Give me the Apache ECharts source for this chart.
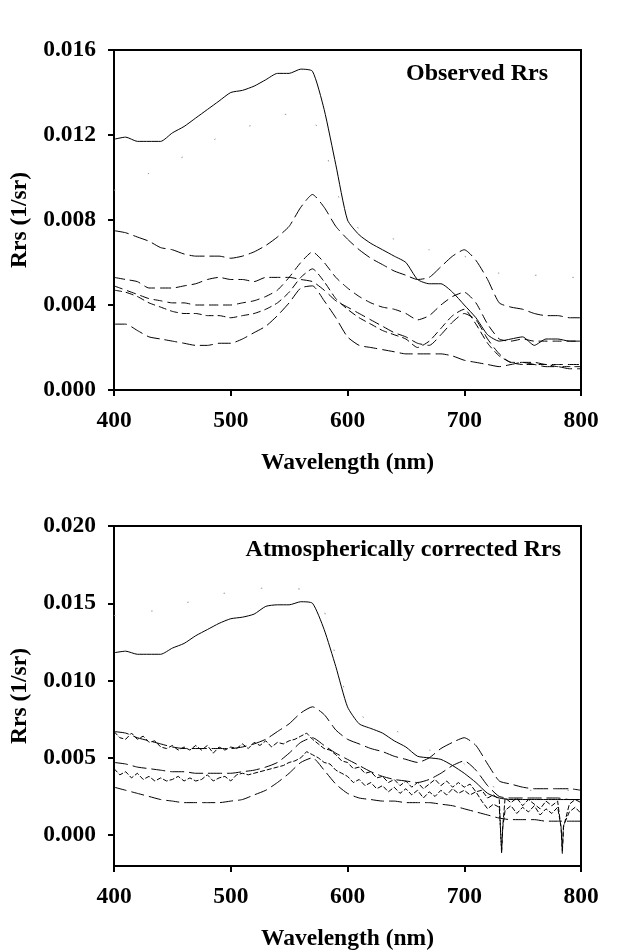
<!DOCTYPE html>
<html><head><meta charset="utf-8">
<script src="https://cdn.jsdelivr.net/npm/echarts@6/dist/echarts.min.js"></script>
<style>html,body{margin:0;padding:0;background:#fff}#c{width:626px;height:952px}</style>
</head><body><div id="c"></div>
<script>
// ---- shared wavelength grids (nm) ----
const wl10 = [400,410,420,430,440,450,460,470,480,490,500,510,520,530,540,550,560,570,580,590,
              600,610,620,630,640,650,660,670,680,690,700,710,720,730,740,750,760,770,780,790,800];
const wlNoisy = [400,405,410,415,420,425,430,435,440,445,450,455,460,465,470,475,480,485,490,495,
                 500,505,510,515,520,525,530,535,540,545,550,555,560,565,570,575,580,585,590,595,
                 600,605,610,615,620,625,630,635,640,645,650,655,660,665,670,675,680,685,690,695,
                 700,705,710,715,720,725,
                 730,731,732,733,735,740,745,750,755,760,765,770,775,780,783,784,785,790,795,800];

// ---- top panel: Observed Rrs ----
const obsSolid = [.0118,.0119,.0117,.0117,.0117,.0121,.0124,.0128,.0132,.0136,
                  .0140,.0141,.0143,.0146,.0149,.0149,.0151,.0150,.0132,.0106,
                  .0080,.0073,.0069,.0066,.0063,.0060,.0052,.0050,.0050,.0046,
                  .0040,.0034,.0026,.0023,.0024,.0025,.0021,.0024,.0024,.0023,.0023];
const obsLongDash = [.0075,.0074,.0072,.0070,.0067,.0066,.0064,.0063,.0063,.0063,
                     .0062,.0063,.0065,.0068,.0072,.0077,.0086,.0092,.0086,.0077,
                     .0071,.0066,.0062,.0059,.0056,.0054,.0052,.0053,.0058,.0063,
                     .0066,.0061,.0052,.0041,.0039,.0038,.0036,.0035,.0035,.0034,.0034];
const obsDashC = [.0053,.0052,.0051,.0048,.0048,.0048,.0049,.0050,.0052,.0053,
                  .0052,.0052,.0051,.0053,.0053,.0053,.0052,.0051,.0047,.0042,
                  .0039,.0036,.0033,.0030,.0027,.0025,.0022,.0021,.0026,.0032,
                  .0036,.0033,.0024,.0017,.0013,.0013,.0013,.0012,.0012,.0012,.0012];
const obsDashD = [.0049,.0047,.0045,.0043,.0042,.0041,.0041,.0040,.0040,.0040,
                  .0040,.0041,.0042,.0044,.0047,.0053,.0060,.0065,.0060,.0053,
                  .0048,.0044,.0041,.0039,.0038,.0036,.0033,.0035,.0040,.0044,
                  .0046,.0041,.0031,.0024,.0023,.0024,.0023,.0023,.0023,.0023,.0023];
const obsDashE = [.0047,.0046,.0044,.0041,.0039,.0037,.0036,.0036,.0035,.0035,
                  .0034,.0035,.0036,.0038,.0041,.0046,.0053,.0057,.0051,.0043,
                  .0038,.0034,.0031,.0028,.0026,.0024,.0020,.0023,.0029,.0035,
                  .0038,.0031,.0022,.0016,.0013,.0012,.0012,.0012,.0011,.0011,.0011];
const obsDashF = [.0031,.0031,.0028,.0025,.0024,.0023,.0022,.0021,.0021,.0022,
                  .0022,.0024,.0027,.0030,.0035,.0041,.0048,.0049,.0042,.0034,
                  .0025,.0021,.0020,.0019,.0018,.0017,.0017,.0017,.0017,.0016,
                  .0014,.0013,.0012,.0011,.0012,.0013,.0012,.0011,.0011,.0010,.0010];
const obsDotted = [.0094,.0096,.0099,.0102,.0104,.0107,.0110,.0113,.0116,.0119,
                   .0121,.0123,.0125,.0127,.0129,.0130,.0131,.0128,.0115,.0095,
                   .0080,.0076,.0074,.0072,.0071,.0069,.0067,.0066,.0066,.0065,
                   .0063,.0060,.0056,.0055,.0055,.0054,.0054,.0054,.0053,.0053,.0053];

// ---- bottom panel: Atmospherically corrected Rrs ----
const corSolid = [.0118,.0119,.0117,.0117,.0117,.0121,.0124,.0129,.0133,.0137,
                  .0140,.0141,.0143,.0148,.0149,.0149,.0151,.0150,.0133,.0109,
                  .0083,.0072,.0069,.0066,.0061,.0057,.0051,.0050,.0049,.0045,
                  .0040,.0034,.0027,.0024,.0023,.0023,.0023,.0023,.0023,.0023,.0023];
const corLongDash = [.0067,.0066,.0063,.0061,.0059,.0057,.0056,.0056,.0056,.0056,
                     .0056,.0057,.0059,.0062,.0067,.0072,.0079,.0083,.0078,.0068,
                     .0062,.0059,.0056,.0054,.0051,.0049,.0047,.0050,.0056,.0060,
                     .0063,.0058,.0046,.0035,.0033,.0031,.0030,.0030,.0030,.0030,.0029];
const corDashD = [.0047,.0046,.0044,.0043,.0042,.0041,.0041,.0040,.0040,.0040,
                  .0040,.0041,.0042,.0044,.0047,.0053,.0060,.0063,.0058,.0053,
                  .0049,.0045,.0041,.0038,.0036,.0035,.0034,.0036,.0040,.0045,
                  .0048,.0042,.0032,.0025,.0024,.0024,.0024,.0024,.0024,.0023,.0023];
const corDashF = [.0031,.0029,.0027,.0025,.0023,.0022,.0021,.0021,.0021,.0021,
                  .0022,.0023,.0026,.0029,.0034,.0040,.0047,.0050,.0042,.0033,
                  .0027,.0024,.0023,.0022,.0022,.0021,.0021,.0021,.0020,.0019,
                  .0017,.0015,.0013,.0011,.0010,.0010,.0010,.0009,.0009,.0009,.0009];
const corDotted = [.0142,.0143,.0144,.0145,.0145,.0148,.0150,.0152,.0154,.0156,
                   .0157,.0158,.0159,.0160,.0160,.0160,.0159,.0155,.0145,.0115,
                   .0088,.0078,.0074,.0071,.0068,.0064,.0058,.0055,.0054,.0051,
                   .0046,.0040,.0033,.0030,.0029,.0029,.0029,.0029,.0029,.0029,.0029];
const corNoisyUpper = [.0067,.0063,.0062,.0066,.0062,.0064,.0060,.0061,.0057,.0056,.0058,.0055,.0057,.0055,.0058,.0055,.0058,.0053,.0057,.0055,
                       .0057,.0056,.0059,.0056,.0060,.0058,.0061,.0057,.0060,.0059,.0061,.0062,.0064,.0066,.0062,.0059,.0056,.0055,.0052,.0048,
                       .0047,.0043,.0044,.0040,.0041,.0037,.0038,.0034,.0036,.0032,.0035,.0031,.0034,.0030,.0033,.0036,.0032,.0035,.0031,.0034,
                       .0031,.0033,.0028,.0029,.0024,.0026,
                       .0023,.0005,-.0012,.0006,.0024,.0021,.0024,.0019,.0023,.0020,.0017,.0022,.0019,.0022,.0004,-.0012,.0005,.0020,.0023,.0021];
const corNoisyLower = [.0043,.0039,.0041,.0037,.0040,.0036,.0038,.0035,.0037,.0035,.0036,.0038,.0035,.0037,.0035,.0036,.0039,.0035,.0037,.0038,
                       .0035,.0039,.0040,.0039,.0040,.0041,.0042,.0043,.0044,.0045,.0047,.0048,.0050,.0054,.0052,.0050,.0047,.0046,.0042,.0040,
                       .0038,.0034,.0036,.0032,.0034,.0030,.0032,.0028,.0031,.0027,.0030,.0026,.0029,.0024,.0028,.0025,.0029,.0026,.0030,.0027,
                       .0029,.0026,.0028,.0022,.0017,.0020,
                       .0018,.0004,-.0010,.0005,.0016,.0019,.0014,.0018,.0015,.0019,.0013,.0017,.0014,.0018,.0005,-.0010,.0006,.0015,.0018,.0014];

// ---- tick labels ----
const xTicks = [400,500,600,700,800];
const yTicksTop = [0,0.004,0.008,0.012,0.016];
const yTicksBottom = [0,0.005,0.010,0.015,0.020];

const FONT = '"Liberation Serif","Times New Roman",serif';
const FS = 23.5;
const txt = {color:'#000', fontFamily:FONT, fontWeight:'bold', fontSize:FS};

function pairs(xs, ys){ return xs.map((x,i)=>[x, ys[i]]); }
function ser(idx, xs, ys, dash, extra){
  return Object.assign({
    type:'line', xAxisIndex:idx, yAxisIndex:idx, data:pairs(xs,ys),
    showSymbol:false, symbol:'none', smooth:0.2, silent:true,
    lineStyle:{color:'#000', width:1, type:dash}
  }, extra||{});
}

function xAxisCfg(gi){
  return {
    type:'value', gridIndex:gi, min:xTicks[0], max:xTicks[xTicks.length-1], interval:100,
    name:'Wavelength (nm)', nameLocation:'middle', nameGap:61, nameTextStyle:txt,
    axisLine:{show:true, onZero:false, lineStyle:{color:'#000', width:2}},
    axisTick:{show:true, inside:false, length:6, lineStyle:{color:'#000', width:2}},
    axisLabel:Object.assign({margin:19}, txt),
    splitLine:{show:false}
  };
}
function yAxisCfg(gi, min, max, ticks){
  return {
    type:'value', gridIndex:gi, min:min, max:max,
    name:'Rrs (1/sr)', nameLocation:'middle', nameGap:82, nameTextStyle:txt,
    axisLine:{show:true, onZero:false, lineStyle:{color:'#000', width:2}},
    axisTick:{show:true, inside:false, length:6, lineStyle:{color:'#000', width:2}, customValues:ticks},
    axisLabel:Object.assign({margin:18, customValues:ticks, formatter:v=>v.toFixed(3)}, txt),
    splitLine:{show:false}
  };
}

const chart = echarts.init(document.getElementById('c'));
chart.setOption({
  animation:false,
  backgroundColor:'#fff',
  title:[
    {text:'Observed Rrs', right:78, top:62, padding:0, textStyle:Object.assign({}, txt, {fontSize:24})},
    {text:'Atmospherically corrected Rrs', right:65, top:538, padding:0, textStyle:Object.assign({}, txt, {fontSize:24})}
  ],
  grid:[
    {left:112, top:50, width:469, height:340, show:true, borderColor:'#000', borderWidth:2, containLabel:false},
    {left:112, top:526, width:469, height:340, show:true, borderColor:'#000', borderWidth:2, containLabel:false}
  ],
  xAxis:[xAxisCfg(0), xAxisCfg(1)],
  yAxis:[yAxisCfg(0, 0, 0.016, yTicksTop), yAxisCfg(1, -0.002, 0.020, yTicksBottom)],
  series:[
    ser(0, wl10, obsDotted, [1.5,36], {lineStyle:{color:'#999', width:1, type:[1.5,36]}}),
    ser(0, wl10, obsSolid, 'solid'),
    ser(0, wl10, obsLongDash, [15,5]),
    ser(0, wl10, obsDashC, [11,5]),
    ser(0, wl10, obsDashD, [9,5]),
    ser(0, wl10, obsDashE, [8,4]),
    ser(0, wl10, obsDashF, [13,5]),
    ser(1, wl10, corDotted, [1.5,36], {lineStyle:{color:'#999', width:1, type:[1.5,36]}}),
    ser(1, wl10, corSolid, 'solid'),
    ser(1, wl10, corLongDash, [15,5]),
    ser(1, wl10, corDashD, [14,5]),
    ser(1, wl10, corDashF, [13,5]),
    ser(1, wlNoisy, corNoisyUpper, [5,2], {smooth:false}),
    ser(1, wlNoisy, corNoisyLower, [5,2], {smooth:false})
  ]
});
</script></body></html>
